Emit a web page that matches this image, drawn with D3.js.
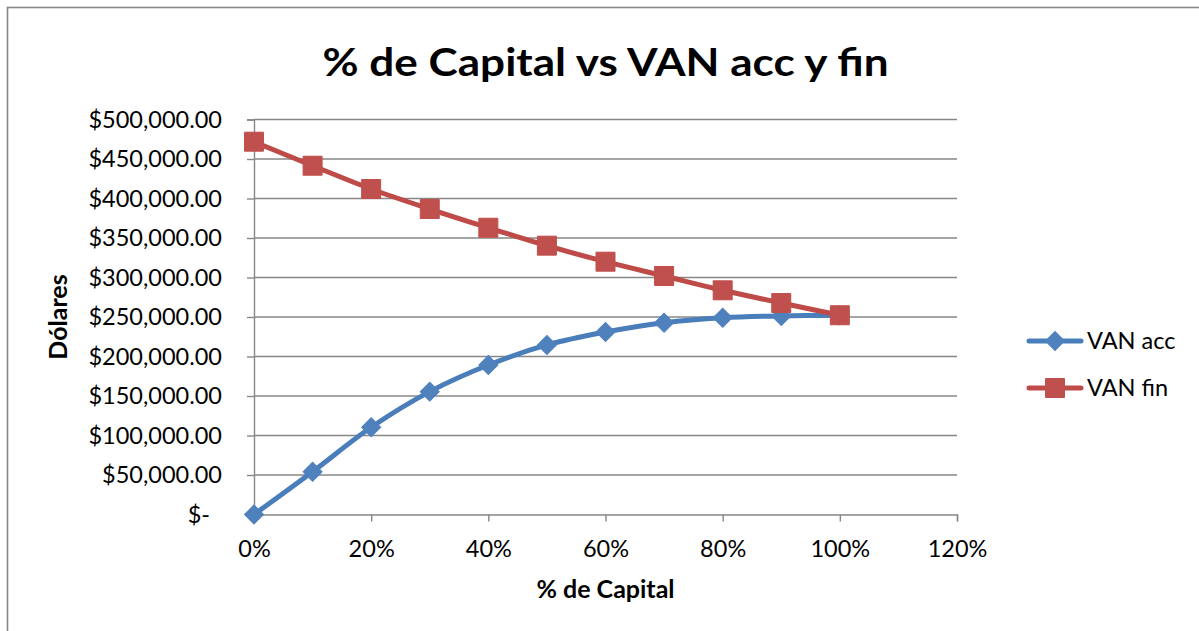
<!DOCTYPE html>
<html>
<head>
<meta charset="utf-8">
<script src="https://cdn.jsdelivr.net/npm/d3@7"></script>
<style>
  html, body { margin: 0; padding: 0; background: #fff; }
  svg { display: block; }
  text { font-family: Lato, "Open Sans", "Liberation Sans", sans-serif; fill: #000; }
</style>
</head>
<body>
<script>
// Share of capital (x) and the two present-value series (y, dollars)
const capitalShare = [0, 0.1, 0.2, 0.3, 0.4, 0.5, 0.6, 0.7, 0.8, 0.9, 1.0];
const vanAcc = [0, 54200, 110400, 155500, 189200, 214600, 231000, 242800, 249100, 251300, 252200];
const vanFin = [471900, 441500, 412000, 386700, 363000, 340300, 320000, 301900, 283800, 267700, 252200];
const seriesNames = ["VAN acc", "VAN fin"];
const xTicks = [0, 0.2, 0.4, 0.6, 0.8, 1.0, 1.2];
const yTicks = [0, 50000, 100000, 150000, 200000, 250000, 300000, 350000, 400000, 450000, 500000];
const chartTitle = "% de Capital vs VAN acc y fin";
const xTitle = "% de Capital";
const yTitle = "Dólares";

const W = 1199, H = 631;
const plot = { left: 254, right: 957, top: 119.5, bottom: 514.5 };
const gridColor = "#878787";
const colors = { acc: "#4A7EBB", accMarker: "#4F81BD", fin: "#BE4B48", finMarker: "#C0504D" };
const labelSize = 23.5;
const axisTitleSize = 25;

const svg = d3.select("body").append("svg").attr("width", W).attr("height", H);

// Outer chart frame (only the top and left edges fall inside the page)
svg.append("rect")
  .attr("x", 7.5).attr("y", 7.5).attr("width", 1400).attr("height", 800)
  .attr("fill", "none").attr("stroke", gridColor).attr("stroke-width", 1.6);

const x = d3.scaleLinear().domain([0, 1.2]).range([plot.left, plot.right]);
const y = d3.scaleLinear().domain([0, 500000]).range([plot.bottom, plot.top]);

// Horizontal gridlines
svg.append("g").selectAll("line")
  .data(yTicks.filter(v => v > 0))
  .join("line")
  .attr("x1", plot.left).attr("x2", plot.right)
  .attr("y1", d => y(d)).attr("y2", d => y(d))
  .attr("stroke", gridColor).attr("stroke-width", 1.4);

// Y axis
const money = d3.format("$,.2f");
const yAxis = svg.append("g")
  .attr("transform", `translate(${plot.left},0)`)
  .call(d3.axisLeft(y).tickValues(yTicks).tickSize(7).tickPadding(25)
    .tickFormat(v => v === 0 ? "$-" : money(v)));
yAxis.select(".domain").attr("stroke", gridColor).attr("stroke-width", 1.4);
yAxis.selectAll(".tick line").attr("stroke", gridColor).attr("stroke-width", 1.4);
yAxis.selectAll(".tick text")
  .attr("font-size", labelSize).attr("font-family", null)
  .attr("dx", d => d === 0 ? -12 : 0);

// X axis
const xAxis = svg.append("g")
  .attr("transform", `translate(0,${plot.bottom})`)
  .call(d3.axisBottom(x).tickValues(xTicks).tickSize(7).tickPadding(19)
    .tickFormat(d3.format(".0%")));
xAxis.select(".domain").attr("stroke", gridColor).attr("stroke-width", 1.4);
xAxis.selectAll(".tick line").attr("stroke", gridColor).attr("stroke-width", 1.4);
xAxis.selectAll(".tick text").attr("font-size", labelSize).attr("font-family", null);

// Titles
svg.append("text")
  .attr("x", (plot.left + plot.right) / 2).attr("y", 76)
  .attr("text-anchor", "middle").attr("font-weight", "bold").attr("font-size", 39)
  .attr("textLength", 566).attr("lengthAdjust", "spacingAndGlyphs")
  .text(chartTitle);
svg.append("text")
  .attr("x", (plot.left + plot.right) / 2).attr("y", 598)
  .attr("text-anchor", "middle").attr("font-weight", "bold").attr("font-size", axisTitleSize)
  .text(xTitle);
svg.append("text")
  .attr("transform", "translate(67,317) rotate(-90)")
  .attr("text-anchor", "middle").attr("font-weight", "bold").attr("font-size", axisTitleSize)
  .text(yTitle);

// Series
const series = [
  { name: seriesNames[0], values: vanAcc, line: colors.acc, marker: colors.accMarker, shape: "diamond" },
  { name: seriesNames[1], values: vanFin, line: colors.fin, marker: colors.finMarker, shape: "square" }
];
const diamond = d3.symbol().type(d3.symbolSquare).size(180)();
const square = d3.symbol().type(d3.symbolSquare).size(361)();
const markerPath = s => s === "diamond" ? diamond : square;
const markerRot = s => s === "diamond" ? " rotate(45)" : "";

const lineGen = d3.line()
  .x((d, i) => x(capitalShare[i]))
  .y(d => y(d))
  .curve(d3.curveCatmullRom.alpha(0.5));

series.forEach(s => {
  const g = svg.append("g");
  g.append("path")
    .attr("d", lineGen(s.values))
    .attr("fill", "none").attr("stroke", s.line).attr("stroke-width", 5)
    .attr("stroke-linejoin", "round").attr("stroke-linecap", "round");
  g.selectAll("path.mk")
    .data(s.values)
    .join("path")
    .attr("class", "mk")
    .attr("d", markerPath(s.shape))
    .attr("transform", (d, i) => `translate(${x(capitalShare[i])},${y(d)})${markerRot(s.shape)}`)
    .attr("fill", s.marker).attr("stroke", s.marker).attr("stroke-width", 1);
});

// Legend
const legendRows = [341, 388];
series.forEach((s, i) => {
  const g = svg.append("g").attr("transform", `translate(0,${legendRows[i]})`);
  g.append("line")
    .attr("x1", 1029).attr("x2", 1081).attr("y1", 0).attr("y2", 0)
    .attr("stroke", s.line).attr("stroke-width", 5).attr("stroke-linecap", "round");
  g.append("path")
    .attr("d", markerPath(s.shape))
    .attr("transform", `translate(1055,0)${markerRot(s.shape)}`)
    .attr("fill", s.marker).attr("stroke", s.marker).attr("stroke-width", 1);
  g.append("text")
    .attr("x", 1087).attr("y", 0).attr("dy", "0.35em")
    .attr("font-size", labelSize)
    .text(s.name);
});
</script>
</body>
</html>
